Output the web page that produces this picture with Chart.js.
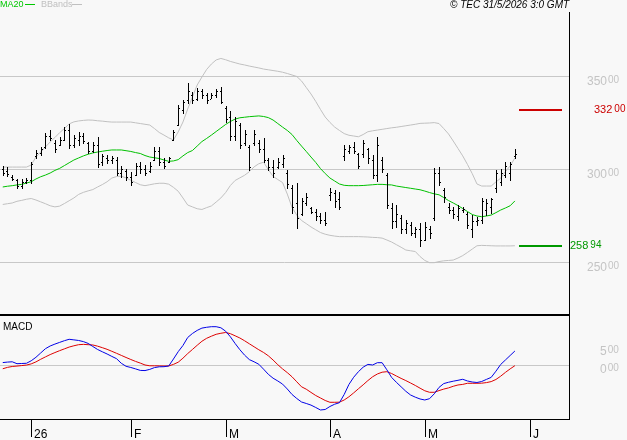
<!DOCTYPE html>
<html lang="en">
<head>
<meta charset="UTF-8">
<title>TEC daily</title>
<style>
    * { margin:0; padding:0; }
    body { width:627px; height:440px; background:#f8f8f8; position:relative; overflow:hidden; }
    canvas { position:absolute; left:0; }
    #priceChart { top:0; }
    #macdChart { top:316px; }
</style>
</head>
<body>
<canvas id="priceChart" width="627" height="316"></canvas>
<canvas id="macdChart" width="627" height="124"></canvas>
<script src="https://cdn.jsdelivr.net/npm/chart.js@4.4.1/dist/chart.umd.min.js"></script>
<script>
// daily bars, 22/12/2025 .. 29/5/2026 (index = trading day)
const opens = [300,299,296,294,291,293,294,307,309,312, 318,314,313,316,321,313,316,318,314,310,
    313,304,306,305,305,298,299,296,297,302, 300,299,305,310,304,304,316,324,332,337,
    340,338,342,340,338,340,342,333,328,318, 324,314,312,314,314,311,305,301,301,303,
    298,290,282,276,282,279,277,275,273,286, 287,284,307,310,312,308,308,311,305,297,
    305,297,279,272,274,268,270,266,268,262, 268,274,298,289,280,278,275,278,276,268,
    272,273,278,280,290,293,297,298,307];
const highs = [301.8,301.2,296.9,294.8,294.8,295.3,303.9,310.4,312,319.5, 321.1,315.8,317.4,322.7,324.4,318.4,320.1,319.5,314.7,314.7,
    317.4,308.2,307.7,307.2,306.6,301.8,300.2,298.5,303.4,303.9, 302.3,303.9,312,312,306.1,306.6,321.1,334.6,337.3,346.4,
    341.6,343.7,343.2,341,341,343.2,344.2,334,331.3,328.1, 324.9,321.1,313.1,321.1,315.8,316.8,306.1,305,306.1,307.7,
    299.6,291.6,292.6,284.6,287.3,279.7,278.7,276.5,277,289.9, 288.9,287.8,313.1,313.1,314.7,308.8,315.8,311.5,307.7,317.4,
    306.6,298,281.9,280.8,275.4,272.7,271.7,269,271.1,271.7, 269.5,300.7,301.2,289.9,281.9,279.7,280.8,279.7,277,275.4,
    274.4,284.6,284,284.6,299.6,300.2,303.9,303.9,310.9];
const lows = [296.9,296.4,294.2,289.9,289.9,292.6,292.6,306.1,307.7,311.5, 315.8,309.3,313.1,315.8,311.5,312,313.1,314.1,308.8,309.3,
    301.2,302.3,303.4,303.4,296.9,295.9,294.2,291.6,296.9,298, 296.9,298.5,305,302.3,300.7,303.9,315.8,323.8,330.3,335.6,
    335.6,337.3,338.3,335.6,338.3,338.9,335.6,325.4,315.8,315.8, 311.5,313.1,299.6,313.1,309.3,303.9,299.6,295.9,300.7,301.2,
    289.9,276.5,268.4,275.4,280.8,276.5,272.7,271.1,270.1,283.5, 279.7,278.7,305,308.8,308.8,300.7,306.6,303.4,295.3,293.7,
    298.5,279.2,268.4,269,265.8,265.8,264.7,263.6,258.9,262, 263.1,272.7,291.6,282.4,276.5,273.8,272.7,277,268.4,263.6,
    270.1,271.1,275.4,276.5,287.8,291.6,295.9,294.2,306.1];
const closes = [298,297.5,295,291,293,294,303,309,311,318, 317,311,316,321,313,317,318,315,310,313,
    303,307,305,306,298,300,296,293,302,300, 298,302,310,304,302,306,320,333,336,342,
    337,342,340,337,340,342,336,327,318,326, 313,319,301,319,311,305,301,298,304,306,
    292,280,274,283,285,277,275,273,271,288, 283,280,311,312,310,302,314,306,297,313,
    300,281,272,276,268,271,266,268,262,269, 266,298,293,285,278,276,279,278.5,270,272,
    273,283,282,284,298,298,302,303,308];

const ma20 = [290.5,290.9,291.2,291.6,291.9,292.6,293.3,294.8,296.0,296.9, 298.0,299.4,300.5,302.0,303.5,305.0,306.1,307.2,308.1,308.8,
    309.3,309.7,310.1,310.4,310.4,310.4,310.0,309.6,309.0,308.5, 307.4,306.6,306.2,305.8,305.0,304.3,304.5,305.2,307.2,309.0,
    310.1,312.5,314.9,316.6,318.4,320.3,322.2,324.1,325.7,327.0, 327.7,328.0,328.3,328.5,328.7,328.4,327.8,326.5,324.6,322.7,
    320.9,318.7,315.5,312.5,309.6,306.6,303.7,300.4,297.7,295.3, 293.7,292.1,291.4,291.2,291.2,291.2,291.3,291.5,291.7,291.9,
    291.9,291.7,291.6,291.0,290.6,290.2,289.8,289.4,289.0,288.3, 287.5,286.8,286.3,284.8,283.2,281.9,280.5,278.9,277.3,275.7,
    274.9,274.5,274.9,275.4,276.7,278.1,279.2,280.4,283.0];
const bbUpper = [301.2,301.2,301.2,301.2,301.2,301.2,302.3,306.6,309.3,312.0, 314.7,317.1,319.7,321.9,324.4,325.5,326.0,326.3,326.5,326.4,
    326.1,325.9,325.6,325.4,325.4,325.4,325.4,325.4,325.0,324.6, 324.2,323.8,321.9,319.8,318.4,316.9,315.8,320.1,325.4,332.4,
    338.9,345.3,349.6,353.7,356.6,358.8,359.6,358.9,358.0,357.3, 356.6,356.1,355.5,355.0,354.5,353.9,353.5,353.1,352.7,352.2,
    351.5,350.7,349.9,347.5,344.0,340.5,336.5,332.2,328.1,325.2, 322.7,320.9,319.2,318.3,317.9,317.5,318.7,320.2,320.7,321.1,
    321.5,321.9,322.3,322.6,323.0,323.4,323.8,324.2,324.7,324.8, 324.9,325.1,324.6,321.9,319.0,315.2,311.2,307.2,302.6,297.7,
    292.1,291.0,291.0,291.0,293.2,295.2,298.8,301.8,306.1];
const bbLower = [281.1,281.5,281.9,282.8,283.3,283.9,284.3,283.5,282.5,281.5, 280.4,279.8,280.2,281.6,283.1,284.6,286.5,287.6,288.4,289.1,
    290.5,291.8,293.3,295.3,296.1,296.3,295.4,294.1,292.9,291.7, 291.2,291.7,292.2,292.5,292.5,292.0,290.3,288.2,284.6,280.8,
    279.8,278.8,278.4,279.4,280.3,282.4,284.6,287.5,291.3,294.0, 295.4,296.8,298.7,301.3,303.0,303.8,299.9,296.2,294.5,292.9,
    286.7,279.5,275.4,272.5,270.8,269.0,267.5,266.0,265.1,264.5, 264.1,263.8,263.8,263.8,263.8,263.8,263.7,263.6,263.4,263.3,
    263.0,262.0,260.9,259.5,258.1,256.6,256.2,255.8,253.1,251.0, 249.8,249.8,250.4,250.8,251.0,251.2,252.3,253.6,255.3,257.1,
    258.9,259.1,259.0,258.9,258.8,258.8,258.8,258.8,258.9];

const macd = [0.75,0.89,0.97,0.44,0.50,0.56,1.25,2.22,3.42,4.61, 5.36,5.89,6.36,6.83,7.22,7.06,6.89,6.58,6.08,5.22,
    4.39,3.75,3.14,2.47,1.83,0.56,-0.28,-0.61,-1.00,-1.42, -1.47,-1.14,-0.64,-0.42,-0.39,-0.19,1.75,3.78,5.50,7.72,
    8.83,9.69,10.33,10.56,10.72,10.72,10.42,9.47,7.92,6.06, 4.33,2.81,1.58,0.97,0.28,-1.08,-2.50,-3.58,-4.36,-5.22,
    -6.58,-8.11,-9.22,-10.19,-10.61,-11.06,-11.72,-12.42,-12.28,-11.44, -10.81,-10.39,-8.11,-5.33,-3.33,-1.78,-0.53,0.25,0.08,0.72,
    0.72,-1.25,-3.36,-4.72,-5.97,-7.22,-8.25,-8.86,-9.36,-9.64, -9.28,-7.92,-6.14,-5.08,-4.72,-4.42,-4.17,-3.89,-4.36,-4.64,
    -4.78,-4.50,-3.92,-3.36,-1.64,0.22,1.47,2.72,3.97];
const signal = [-0.97,-0.58,-0.33,-0.22,-0.08,0.06,0.39,0.94,1.67,2.33, 2.97,3.53,4.06,4.56,5.06,5.42,5.72,5.81,5.72,5.64,
    5.31,4.89,4.44,3.89,3.33,2.75,2.17,1.61,1.08,0.61, 0.08,-0.14,-0.14,-0.17,-0.19,-0.19,0.25,0.86,1.97,3.25,
    4.39,5.56,6.67,7.50,8.08,8.61,8.89,9.11,8.78,8.19, 7.58,6.81,5.97,5.14,4.31,3.56,2.64,1.47,0.17,-1.00,
    -2.03,-3.19,-4.58,-5.97,-6.64,-7.53,-8.39,-9.08,-9.78,-10.28, -10.28,-10.25,-9.64,-8.75,-7.67,-6.53,-5.42,-4.25,-3.19,-2.42,
    -1.92,-1.78,-2.28,-2.97,-3.64,-4.25,-4.92,-5.61,-6.36,-7.08, -7.50,-7.50,-7.03,-6.61,-6.28,-5.83,-5.47,-5.31,-5.00,-5.00,
    -5.00,-4.97,-4.81,-4.53,-3.94,-3.03,-1.97,-1.00,-0.11];

const priceTicks = [250, 300, 350];
const macdTicks = [0, 5];
const monthTicks = [6, 27, 47, 69, 89, 111.2];
const monthLabels = ['26', 'F', 'M', 'A', 'M', 'J'];
const resistance = 332.00;
const support = 258.94;

const FONT = '"Liberation Sans", Arial, sans-serif';
const pts = arr => arr.map((v, i) => ({ x: i, y: v }));

function splitLabel(ctx, v, x, y, color, big, small, gap) {
    const parts = v.toFixed(2).split('.');
    ctx.fillStyle = color;
    ctx.textBaseline = 'middle';
    ctx.textAlign = 'left';
    ctx.font = big + 'px ' + FONT;
    ctx.fillText(parts[0], x, y);
    const w = ctx.measureText(parts[0]).width;
    ctx.font = small + 'px ' + FONT;
    ctx.fillText(parts[1], x + w + gap, y - 1);
}

const ohlcPlugin = {
    id: 'ohlc',
    afterDatasetsDraw(chart) {
        const ctx = chart.ctx, xs = chart.scales.x, ys = chart.scales.y;
        ctx.save();
        ctx.fillStyle = '#000';
        for (let i = 0; i < highs.length; i++) {
            const px = Math.round(xs.getPixelForValue(i));
            const yh = Math.round(ys.getPixelForValue(highs[i]));
            const yl = Math.round(ys.getPixelForValue(lows[i]));
            ctx.fillRect(px, yh, 1, Math.max(1, yl - yh + 1));
            ctx.fillRect(px - 1, Math.round(ys.getPixelForValue(opens[i])), 1, 1);
            ctx.fillRect(px + 1, Math.round(ys.getPixelForValue(closes[i])), 1, 1);
        }
        ctx.restore();
    }
};

const priceDecor = {
    id: 'priceDecor',
    afterDraw(chart) {
        const ctx = chart.ctx, ys = chart.scales.y, a = chart.chartArea;
        ctx.save();
        // legend
        ctx.font = '9px ' + FONT;
        ctx.textBaseline = 'middle';
        ctx.fillStyle = '#00c800';
        ctx.fillText('MA20', 0, 5);
        ctx.fillRect(25, 4, 10, 1);
        ctx.fillStyle = '#c0c0c0';
        ctx.fillText('BBands', 41, 5);
        ctx.fillRect(72, 4, 10, 1);
        // source / date
        ctx.fillStyle = '#000';
        ctx.font = 'italic 10px ' + FONT;
        ctx.fillText('\u00a9 TEC 31/5/2026 3:0 GMT', 450, 5);
        // price labels
        priceTicks.forEach(v => splitLabel(ctx, v, 587, ys.getPixelForValue(v) + 5, '#c4c4c4', 12, 10, 1));
        // resistance / support
        const yr = Math.round(ys.getPixelForValue(resistance));
        const yS = Math.round(ys.getPixelForValue(support));
        ctx.fillStyle = '#cc0000';
        ctx.fillRect(a.right - 50, yr - 1, 43, 2);
        splitLabel(ctx, resistance, 594, yr, '#cc0000', 11, 10, 2);
        ctx.fillStyle = '#009900';
        ctx.fillRect(a.right - 50, yS - 1, 43, 2);
        splitLabel(ctx, support, 570, yS, '#009900', 11, 10, 2);
        // frame
        ctx.fillStyle = '#000';
        ctx.fillRect(a.right, 12, 1, chart.height - 12);
        ctx.fillRect(0, chart.height - 2, a.right + 1, 2);
        ctx.restore();
    }
};

const macdDecor = {
    id: 'macdDecor',
    afterDraw(chart) {
        const ctx = chart.ctx, ys = chart.scales.y, xs = chart.scales.x, a = chart.chartArea;
        ctx.save();
        ctx.fillStyle = '#000';
        ctx.font = '10px ' + FONT;
        ctx.textBaseline = 'middle';
        ctx.fillText('MACD', 3, 11);
        macdTicks.forEach(v => splitLabel(ctx, v, 600, ys.getPixelForValue(v) + 4, '#c4c4c4', 12, 10, 1));
        ctx.fillStyle = '#000';
        ctx.fillRect(a.right, 0, 1, a.bottom + 1);
        ctx.fillRect(0, a.bottom, a.right + 1, 1);
        ctx.font = '12px ' + FONT;
        ctx.textBaseline = 'alphabetic';
        monthTicks.forEach((t, k) => {
            const px = Math.round(xs.getPixelForValue(t));
            ctx.fillRect(px, a.bottom, 1, 18);
            ctx.fillText(monthLabels[k], px + 3, a.bottom + 19);
        });
        ctx.restore();
    }
};

const xMin = -0.58, xMax = 119.41;
const lineBase = { borderWidth: 1, pointRadius: 0, tension: 0, fill: false };

new Chart(document.getElementById('priceChart'), {
    type: 'line',
    data: {
        datasets: [
            Object.assign({ label: 'BB upper', data: pts(bbUpper), borderColor: '#c0c0c0' }, lineBase),
            Object.assign({ label: 'BB lower', data: pts(bbLower), borderColor: '#c0c0c0' }, lineBase),
            Object.assign({ label: 'MA20', data: pts(ma20), borderColor: '#00c000' }, lineBase)
        ]
    },
    options: {
        responsive: false,
        animation: false,
        devicePixelRatio: 1,
        layout: { padding: { left: 0, right: 58, top: 12, bottom: 1 } },
        plugins: { legend: { display: false }, tooltip: { enabled: false } },
        scales: {
            x: { type: 'linear', min: xMin, max: xMax, display: false },
            y: {
                type: 'linear', position: 'right', min: 221.67, max: 384.57,
                afterBuildTicks: s => { s.ticks = priceTicks.map(v => ({ value: v })); },
                afterFit: s => { s.width = 0; },
                ticks: { display: false },
                border: { display: false },
                grid: { color: '#c8c8c8', drawTicks: false, lineWidth: 1 }
            }
        }
    },
    plugins: [ohlcPlugin, priceDecor]
});

new Chart(document.getElementById('macdChart'), {
    type: 'line',
    data: {
        datasets: [
            Object.assign({ label: 'MACD', data: pts(macd), borderColor: '#0000e6' }, lineBase),
            Object.assign({ label: 'Signal', data: pts(signal), borderColor: '#dd0000' }, lineBase)
        ]
    },
    options: {
        responsive: false,
        animation: false,
        devicePixelRatio: 1,
        layout: { padding: { left: 0, right: 58, top: 0, bottom: 21 } },
        plugins: { legend: { display: false }, tooltip: { enabled: false } },
        scales: {
            x: { type: 'linear', min: xMin, max: xMax, display: false },
            y: {
                type: 'linear', position: 'right', min: -14.92, max: 13.69,
                afterBuildTicks: s => { s.ticks = [{ value: 0 }]; },
                afterFit: s => { s.width = 0; },
                ticks: { display: false },
                border: { display: false },
                grid: { color: '#c8c8c8', drawTicks: false, lineWidth: 1 }
            }
        }
    },
    plugins: [macdDecor]
});
</script>
</body>
</html>
